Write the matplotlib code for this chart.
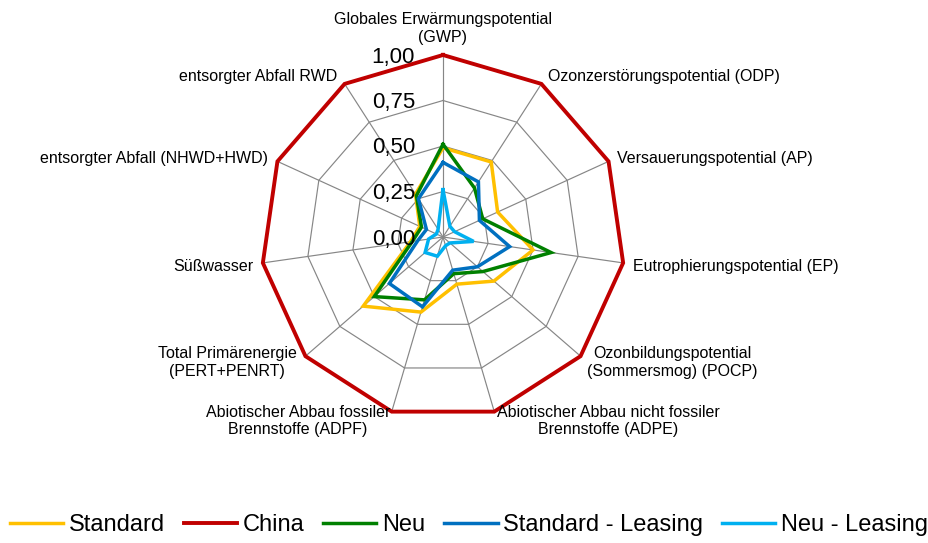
import numpy as np
import matplotlib
matplotlib.use("Agg")
import matplotlib.pyplot as plt
from matplotlib.transforms import offset_copy

plt.rcParams['font.family'] = ['Liberation Sans', 'DejaVu Sans']

# Impact categories, clockwise from the top
categories = [
    "Globales Erwärmungspotential\n(GWP)",
    "Ozonzerstörungspotential (ODP)",
    "Versauerungspotential (AP)",
    "Eutrophierungspotential (EP)",
    "Ozonbildungspotential\n(Sommersmog) (POCP)",
    "Abiotischer Abbau nicht fossiler\nBrennstoffe (ADPE)",
    "Abiotischer Abbau fossiler\nBrennstoffe (ADPF)",
    "Total Primärenergie\n(PERT+PENRT)",
    "Süßwasser",
    "entsorgter Abfall (NHWD+HWD)",
    "entsorgter Abfall RWD",
]

# Normalised results per scenario (China = 1)
standard = [0.49, 0.49, 0.33, 0.50, 0.37, 0.27, 0.43, 0.58, 0.18, 0.14, 0.28]
china = [1.00, 1.00, 1.00, 1.00, 1.00, 1.00, 1.00, 1.00, 1.00, 1.00, 1.00]
neu = [0.51, 0.32, 0.24, 0.60, 0.29, 0.21, 0.36, 0.50, 0.17, 0.13, 0.27]
standard_leasing = [0.41, 0.36, 0.22, 0.37, 0.25, 0.19, 0.40, 0.39, 0.14, 0.10, 0.25]
neu_leasing = [0.26, 0.07, 0.07, 0.17, 0.05, 0.05, 0.11, 0.13, 0.08, 0.04, 0.05]

series_names = ["Standard", "China", "Neu", "Standard - Leasing", "Neu - Leasing"]
series_values = [standard, china, neu, standard_leasing, neu_leasing]
series_colors = ["#FFC000", "#C00000", "#008000", "#0070C0", "#00B0F0"]

tick_values = [0.0, 0.25, 0.5, 0.75, 1.0]
tick_labels = ["0,00", "0,25", "0,50", "0,75", "1,00"]

W, H, DPI = 929, 543, 100
fig = plt.figure(figsize=(W / DPI, H / DPI), dpi=DPI)

cx, cy, R = 443, 237, 182
ax = fig.add_axes([(cx - R) / W, (H - cy - R) / H, 2 * R / W, 2 * R / H],
                  projection='polar')
ax.set_theta_zero_location('N')
ax.set_theta_direction(-1)
ax.set_ylim(0, 1)
ax.grid(False)
ax.set_xticks([])
ax.set_yticks([])
ax.spines['polar'].set_visible(False)
ax.patch.set_visible(False)

n = len(categories)
theta = np.linspace(0, 2 * np.pi, n, endpoint=False)
theta_closed = np.append(theta, theta[0])


def closed(vals):
    return np.append(vals, vals[0])


# polygon grid and spokes
grid_kw = dict(color="#868686", lw=0.85, zorder=1, clip_on=False)
for v in tick_values[1:]:
    ax.plot(theta_closed, np.full(n + 1, v), **grid_kw)
for t in theta:
    ax.plot([t, t], [0, 1], **grid_kw)

# scenario lines
handles = []
for name, vals, col in zip(series_names, series_values, series_colors):
    lw = 2.8 if name == "China" else 2.5
    (ln,) = ax.plot(theta_closed, closed(vals), color=col, lw=lw,
                    solid_joinstyle='miter', zorder=3, clip_on=False, label=name)
    handles.append(ln)

# radial value labels beside the top spoke
for v, lab in zip(tick_values, tick_labels):
    tr = offset_copy(ax.transData, fig=fig, x=-28, y=-7.5, units='dots')
    ax.text(0, v, lab, transform=tr, ha='right', va='baseline', fontsize=16,
            color="black")

# category labels: (dx, dy) in pixels from the outer vertex to the
# baseline of the last text line, and horizontal alignment
label_pos = [
    (0, -13.2, 'center'),
    (6.6, -3.2, 'left'),
    (8.5, 1.3, 'left'),
    (10, 7.8, 'left'),
    (6.5, 19.5, 'left'),
    (2.4, 22.4, 'left'),
    (-1.7, 22.4, 'right'),
    (-8.8, 19.5, 'right'),
    (-9.9, 7.8, 'right'),
    (-9.5, 1.3, 'right'),
    (-7.6, -3.2, 'right'),
]
for t, lab, (dx, dy, ha) in zip(theta, categories, label_pos):
    tr = offset_copy(ax.transData, fig=fig, x=dx, y=-dy, units='dots')
    ax.text(t, 1.0, lab, transform=tr, ha=ha, va='baseline',
            multialignment='center', fontsize=11.5, color="black")

fig.legend(handles=handles, loc='center', bbox_to_anchor=(469 / W, 1 - 525 / H),
           ncol=5, frameon=False, fontsize=17, handlelength=2.25,
           handletextpad=0.25, columnspacing=0.8, borderaxespad=0)

fig.savefig("out.png", dpi=DPI)
